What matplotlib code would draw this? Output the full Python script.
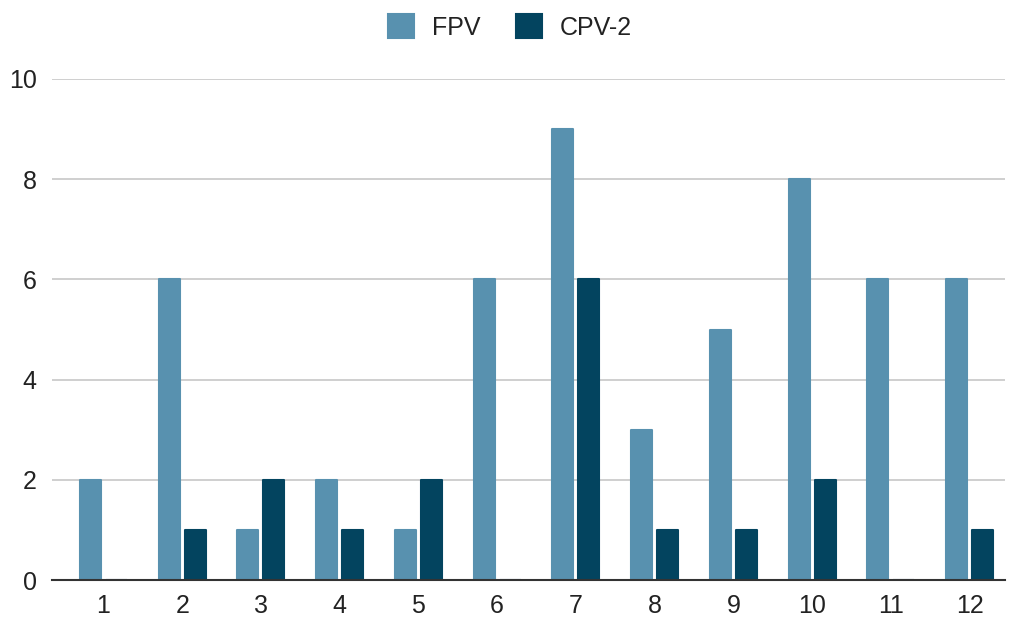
import matplotlib
matplotlib.use("Agg")
import matplotlib.pyplot as plt
import numpy as np

categories = ["1", "2", "3", "4", "5", "6", "7", "8", "9", "10", "11", "12"]
fpv = [2, 6, 1, 2, 1, 6, 9, 3, 5, 8, 6, 6]
cpv2 = [0, 1, 2, 1, 2, 0, 6, 1, 1, 2, 0, 1]

plt.rcParams['font.family'] = ['Liberation Sans', 'DejaVu Sans']

W, H = 1014, 619
fig = plt.figure(figsize=(W / 100, H / 100), dpi=100)
ax = fig.add_axes([52 / W, 39 / H, (1005 - 52) / W, (580 - 79) / H])

x = np.arange(1, len(categories) + 1)
spacing = 78.8
bw = 21 / spacing
gap = 5 / spacing
c_fpv = '#5891AF'
c_cpv = '#03445F'
b1 = ax.bar(x - (bw + gap) / 2, fpv, bw, color=c_fpv, edgecolor=c_fpv, linewidth=1.5,
            joinstyle='round', label='FPV', zorder=3)
b2 = ax.bar(x + (bw + gap) / 2, cpv2, bw, color=c_cpv, edgecolor=c_cpv, linewidth=1.5,
            joinstyle='round', label='CPV-2', zorder=3)

ax.set_xlim(1 - 51.5 / spacing, 12 + 35.5 / spacing)
ax.set_ylim(0, 10)
ax.set_yticks([0, 2, 4, 6, 8, 10])
ax.set_xticks(x)
ax.set_xticklabels(categories)
ax.tick_params(axis='both', length=0, labelsize=18, colors='#222222')
ax.tick_params(axis='x', pad=10)
ax.tick_params(axis='y', pad=11)
ax.grid(axis='y', color='#cccccc', linewidth=1.3, zorder=0)
for s in ['top', 'right', 'left']:
    ax.spines[s].set_visible(False)
ax.spines['bottom'].set_color('#333333')
ax.spines['bottom'].set_linewidth(1.5)
ax.spines['bottom'].set_zorder(4)

fig.legend(handles=[b1, b2], labels=['FPV', 'CPV-2'], loc='center', bbox_to_anchor=(0.503, 1 - 27 / H),
           ncol=2, frameon=False, fontsize=18, handlelength=1.05, handleheight=1.05,
           handletextpad=0.72, columnspacing=1.4, labelcolor='#222222')

fig.savefig('out.png', dpi=100)
